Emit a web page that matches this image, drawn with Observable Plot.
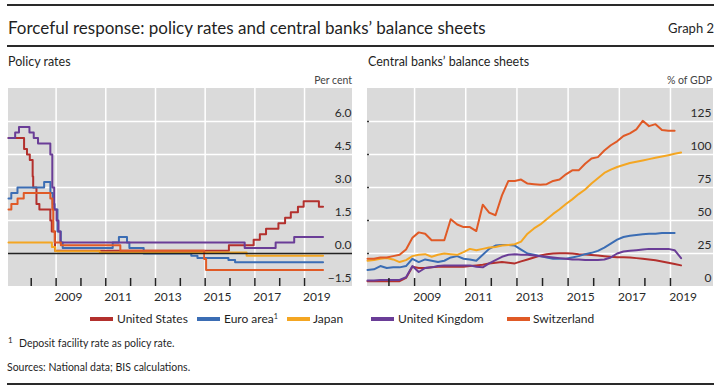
<!DOCTYPE html>
<html><head><meta charset="utf-8">
<script src="https://cdn.jsdelivr.net/npm/d3@7"></script>
<script src="https://cdn.jsdelivr.net/npm/@observablehq/plot@0.6"></script>
<style>
body{margin:0;background:#fff;}
#root{position:relative;width:720px;height:392px;font-family:Lato,'Liberation Sans',sans-serif;color:#1f1f1f;overflow:hidden}
.t{position:absolute;white-space:nowrap;transform:translateY(-50%);line-height:1}
.rule{position:absolute;left:7px;width:707px;background:#2a2a2a}
.sw{position:absolute;height:4px;width:23px;transform:translateY(-50%)}
#left,#right{position:absolute;top:88px;width:360px;height:218px}
#left{left:0;background:linear-gradient(#dadada,#dadada) no-repeat 8px 0 / 344px 198px}
#right{left:360px;background:linear-gradient(#dadada,#dadada) no-repeat 7px 0 / 346px 198px}
#left svg,#right svg{background:transparent}
sup{font-size:0.6em;vertical-align:0.6em;line-height:0}
</style></head><body>
<div id="root">
  <div class="rule" style="top:4px;height:1.5px"></div>
  <div class="t" id="title" style="left:8px;top:27px;font-size:17px"></div>
  <div class="t" id="graphno" style="right:6px;top:28px;font-size:13px"></div>
  <div class="rule" style="top:44.5px;height:2px"></div>
  <div class="t" id="subL" style="left:8px;top:62px;font-size:12.5px"></div>
  <div class="t" id="subR" style="left:368px;top:62px;font-size:12.5px"></div>
  <div class="t" id="unitL" style="right:368px;top:80px;font-size:10.5px;color:#444"></div>
  <div class="t" id="unitR" style="right:8px;top:80px;font-size:10.5px;color:#444"></div>
  <div id="left"></div>
  <div id="right"></div>
  <div id="legend"></div>
  <div class="t" style="left:8px;top:340px;font-size:8px">1</div>
  <div class="t" id="foot" style="left:19px;top:343px;font-size:10.5px"></div>
  <div class="t" id="src" style="left:7px;top:367px;font-size:10.5px"></div>
  <div class="rule" style="top:383px;height:2px"></div>
</div>
<script>
const FONT = "Lato, 'Liberation Sans', sans-serif";

const titleText = "Forceful response: policy rates and central banks’ balance sheets";
const graphLabel = "Graph 2";
const leftTitle = "Policy rates";
const rightTitle = "Central banks’ balance sheets";
const leftUnit = "Per cent";
const rightUnit = "% of GDP";
const footnote = "Deposit facility rate as policy rate.";
const sources = "Sources: National data; BIS calculations.";

const seriesNames = ["United States", "Euro area", "Japan", "United Kingdom", "Switzerland"];
const seriesColors = ["#b3302d", "#3b6db4", "#f4a622", "#6a3d97", "#e05a26"];

// ---------- Policy rates (per cent), step series: change dates and new levels ----------
const usRateDates = ["2007-02-01","2007-09-18","2007-10-31","2007-12-11","2008-01-22","2008-01-30","2008-03-18","2008-04-30","2008-10-08","2008-10-29","2008-12-16","2015-12-16","2016-12-14","2017-03-15","2017-06-14","2017-12-13","2018-03-21","2018-06-13","2018-09-26","2018-12-19","2019-07-31"];
const usRateValues = [5.25,4.75,4.5,4.25,3.5,3.0,2.25,2.0,1.5,1.0,0.125,0.375,0.625,0.875,1.125,1.375,1.625,1.875,2.125,2.375,2.125];

const euroRateDates = ["2007-02-01","2007-03-14","2007-06-13","2008-07-09","2008-10-09","2008-11-12","2008-12-10","2009-01-21","2009-03-11","2009-04-08","2011-04-13","2011-07-13","2011-11-09","2011-12-14","2012-07-11","2014-06-11","2014-09-10","2015-12-09","2016-03-16"];
const euroRateValues = [2.5,2.75,3.0,3.25,2.75,2.25,2.0,1.0,0.5,0.25,0.5,0.75,0.5,0.25,0.0,-0.1,-0.2,-0.3,-0.4];

const japanRateDates = ["2007-02-01","2008-10-31","2008-12-19","2010-10-05","2016-09-01"];
const japanRateValues = [0.5,0.3,0.1,0.05,-0.1];

const ukRateDates = ["2007-02-01","2007-05-10","2007-07-05","2007-12-06","2008-02-07","2008-04-10","2008-10-08","2008-11-06","2008-12-04","2009-01-08","2009-02-05","2009-03-05","2016-08-04","2017-11-02","2018-08-02"];
const ukRateValues = [5.25,5.5,5.75,5.5,5.25,5.0,4.5,3.0,2.0,1.5,1.0,0.5,0.25,0.5,0.75];

const swissRateDates = ["2007-02-01","2007-03-15","2007-06-14","2007-09-13","2008-10-08","2008-11-06","2008-11-20","2008-12-11","2009-03-12","2011-08-03","2014-12-18","2015-01-15"];
const swissRateValues = [2.0,2.25,2.5,2.75,2.5,2.0,1.0,0.5,0.375,0.125,-0.25,-0.75];

const rateEndDate = "2019-09-30";

// ---------- Central bank balance sheets (% of GDP), quarterly ----------
const bsQuarters = ["2007-03","2007-06","2007-09","2007-12","2008-03","2008-06","2008-09","2008-12","2009-03","2009-06","2009-09","2009-12","2010-03","2010-06","2010-09","2010-12","2011-03","2011-06","2011-09","2011-12","2012-03","2012-06","2012-09","2012-12","2013-03","2013-06","2013-09","2013-12","2014-03","2014-06","2014-09","2014-12","2015-03","2015-06","2015-09","2015-12","2016-03","2016-06","2016-09","2016-12","2017-03","2017-06","2017-09","2017-12","2018-03","2018-06","2018-09","2018-12","2019-03","2019-06"];
const usBS = [4,4,4,4, 4,4,6.5,15, 14,14,14.5,15, 15,15,15,15, 15.5,16,16.5,17.5, 18,18.5,18,17.5, 19,20.5,22,23.5, 24.5,25,25.2,25.2, 25,24.5,24.2,23.8, 23.5,23,22.5,22.2, 22.2,22,21.5,21, 20.5,19.8,19,18, 17,16];
const euroBS = [12.5,13,15.5,14, 14.5,14.5,15.5,21, 18.5,20.5,19.5,18.5, 19.5,22,23,21, 20.5,19.5,24,28.5, 31,31.5,31.5,31, 28,25,24,23, 22,21,21,21, 22,23,24.5,25.5, 27,29.5,32.5,35.5, 37.5,38.5,39,39.5, 40,40,40.5,40.5, 40.5,null];
const japanBS = [19.5,20,21,21.5, 20.5,18.5,20,23, 24,24.5,22.5,24, 25,24.5,24,26, 28.5,27.5,28.5,29.5, 30,31,31.5,32, 34,40,44,47, 51,55,58.5,62.5, 66,70,73.5,78, 82,86,88.5,90.5, 92,93.5,94.5,95.5, 96.5,97.5,98.5,99.5, 100.5,101.5];
const ukBS = [4.5,4.5,5,5, 5,5,7,15.5, 11,14,14.5,15.5, 16,16,16,16, 16,15,14.5,17.5, 20,22.5,24,24.5, 24,24,23.5,23, 22.5,22,21.5,21, 20.5,20.5,20,20, 20,20.5,22,25, 26.5,27,27.5,28, 28.5,28.5,28.5,28.5, 27.5,21.5];
const swissBS = [21,21,22,22, 23,24,28,37, 41,40,35,35, 35,51,47,45, 45,42,62,56, 54,69,80,80, 81,78,77.5,77, 77.5,80,81,85, 88,88,93,97, 98,103,107,110, 114,116,119,125.5, 121.5,123,118.5,118, 118,null];

// ---------- axis ticks ----------
const gridYears = ["2009","2011","2013","2015","2017","2019"];
const tickYears = ["2008","2009","2010","2011","2012","2013","2014","2015","2016","2017","2018","2019"];
const rateTicks = [-1.5, 0, 1.5, 3, 4.5, 6];
const rateGrid = [1.5, 3, 4.5, 6];
const bsTicks = [0, 25, 50, 75, 100, 125];
const bsGrid = [25, 50, 75, 100, 125];

// ---------- build tables ----------
const parse = d3.utcParse("%Y-%m-%d");
const parseM = d3.utcParse("%Y-%m");
function stepRows(name, dates, values) {
  const rows = dates.map((d, i) => ({series: name, date: parse(d), value: values[i]}));
  rows.push({series: name, date: parse(rateEndDate), value: values[values.length - 1]});
  return rows;
}
const rates = [
  ...stepRows("United States", usRateDates, usRateValues),
  ...stepRows("Euro area", euroRateDates, euroRateValues),
  ...stepRows("Japan", japanRateDates, japanRateValues),
  ...stepRows("United Kingdom", ukRateDates, ukRateValues),
  ...stepRows("Switzerland", swissRateDates, swissRateValues)
];
function bsRows(name, values) {
  return bsQuarters.map((q, i) => ({series: name, date: parseM(q), value: values[i]})).filter(d => d.value != null);
}
const sheets = [
  ...bsRows("United States", usBS),
  ...bsRows("Euro area", euroBS),
  ...bsRows("Japan", japanBS),
  ...bsRows("United Kingdom", ukBS),
  ...bsRows("Switzerland", swissBS)
];
const yearStart = y => d3.utcParse("%Y")(y);
const midYear = y => d3.utcParse("%Y-%m-%d")(y + "-07-01");
const fmtYear = d3.utcFormat("%Y");

const PLOT_H = 198; // inner plot height
function yLabels(yTicks, yFormat, labelDx) {
  return Plot.text(yTicks, {y: d => d, text: d => yFormat(d), frameAnchor: "right", textAnchor: "end", lineAnchor: "middle", dx: labelDx, dy: -8, fill: "#2a2a2a", fontSize: 12});
}
function innerTicks() {
  return Plot.ruleX(tickYears.map(yearStart), {x: d => d, insetTop: PLOT_H - 8, stroke: "#222", strokeWidth: 1.5});
}
const xAxisOpts = {type: "utc", axis: "bottom", ticks: gridYears.map(midYear), tickSize: 0, tickPadding: 6, tickFormat: fmtYear, label: null};

const common = {
  width: 360, height: PLOT_H + 20, marginTop: 0, marginBottom: 20,
  style: {fontFamily: FONT, fontSize: "12px", color: "#2a2a2a", background: "transparent"},
  color: {domain: seriesNames, range: seriesColors}
};

const leftPlot = Plot.plot({
  ...common,
  marginLeft: 8, marginRight: 8,
  x: {...xAxisOpts, domain: [parse("2007-02-01"), parse("2020-12-06")]},
  y: {domain: [-1.5, 7.5], axis: "left", ticks: rateGrid, tickSize: 0, tickFormat: () => "", label: null},
  marks: [
    Plot.gridX({ticks: gridYears.map(yearStart), stroke: "white", strokeOpacity: 1, strokeWidth: 1.5}),
    Plot.gridY({ticks: rateGrid, stroke: "white", strokeOpacity: 1, strokeWidth: 1.5}),
    Plot.line(rates, {x: "date", y: "value", z: "series", stroke: "series", curve: "step-after", strokeWidth: 2}),
    Plot.ruleY([0], {stroke: "#222", strokeWidth: 1.5}),
    innerTicks(),
    yLabels(rateTicks, d3.format(".1f"), -1)
  ]
});

const rightPlot = Plot.plot({
  ...common,
  marginLeft: 7, marginRight: 7,
  x: {...xAxisOpts, domain: [parse("2007-03-01"), parse("2020-09-06")]},
  y: {domain: [0, 150], axis: "left", ticks: bsGrid, tickSize: 0, tickFormat: () => "", label: null},
  marks: [
    Plot.gridX({ticks: gridYears.map(yearStart), stroke: "white", strokeOpacity: 1, strokeWidth: 1.5}),
    Plot.gridY({ticks: bsGrid, stroke: "white", strokeOpacity: 1, strokeWidth: 1.5}),
    Plot.ruleY(bsGrid, {y: d => d, insetRight: 344, stroke: "#333", strokeWidth: 1.5}),
    Plot.line(sheets, {x: "date", y: "value", z: "series", stroke: "series", strokeWidth: 2}),
    innerTicks(),
    yLabels(bsTicks, d3.format("d"), -2)
  ]
});

document.getElementById("left").appendChild(leftPlot);
document.getElementById("right").appendChild(rightPlot);

document.getElementById("title").textContent = titleText;
document.getElementById("graphno").textContent = graphLabel;
document.getElementById("subL").textContent = leftTitle;
document.getElementById("subR").textContent = rightTitle;
document.getElementById("unitL").textContent = leftUnit;
document.getElementById("unitR").textContent = rightUnit;
document.getElementById("foot").textContent = footnote;
document.getElementById("src").textContent = sources;

// legend
const legendPos = [[90, 117], [197, 224], [287, 313], [371, 398], [507, 533]];
const legend = document.getElementById("legend");
seriesNames.forEach((name, i) => {
  const sw = document.createElement("div");
  sw.className = "sw";
  sw.style.left = legendPos[i][0] + "px";
  sw.style.top = "319px";
  sw.style.background = seriesColors[i];
  legend.appendChild(sw);
  const tx = document.createElement("div");
  tx.className = "t";
  tx.style.left = legendPos[i][1] + "px";
  tx.style.top = "319px";
  tx.style.fontSize = "12px";
  tx.innerHTML = name + (name === "Euro area" ? "<sup>1</sup>" : "");
  legend.appendChild(tx);
});
</script>
</body></html>
